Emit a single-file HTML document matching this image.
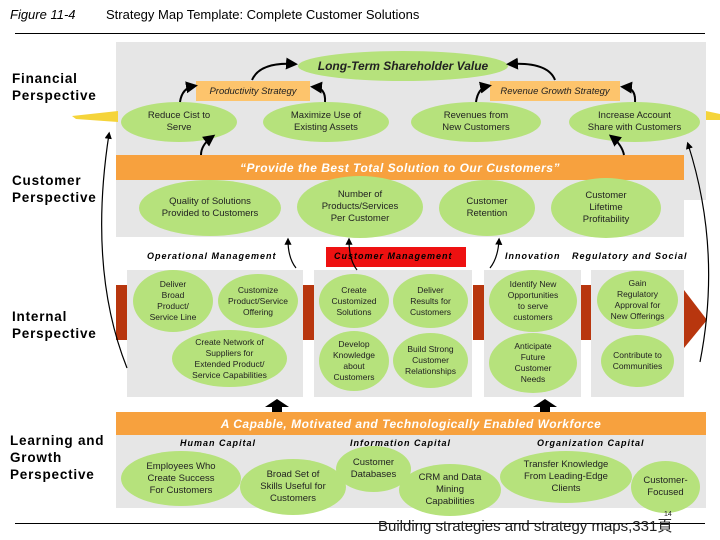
<!DOCTYPE html>
<html><head><meta charset="utf-8"><style>
body{margin:0;width:720px;height:540px;background:#fff;position:relative;overflow:hidden;font-family:"Liberation Sans",sans-serif;}
.a{position:absolute;}
.g{position:absolute;background:#e6e6e6;}
.e{position:absolute;background:#b6e27c;border-radius:50%;display:flex;align-items:center;justify-content:center;text-align:center;font-size:9.5px;line-height:12px;color:#222;}
.s{font-size:8.5px;line-height:11px;}
.lab{position:absolute;font-weight:bold;font-size:13.5px;line-height:17px;letter-spacing:0.8px;color:#000;}
.cap{position:absolute;font-weight:bold;font-style:italic;font-size:9px;letter-spacing:1px;color:#000;}
.bar{position:absolute;background:#f7a13e;color:#fff;font-weight:bold;font-style:italic;font-size:12px;display:flex;align-items:center;justify-content:center;letter-spacing:0.5px;}
.os{position:absolute;background:#fdc46c;font-style:italic;font-size:9.5px;display:flex;align-items:center;justify-content:center;color:#222;}
.rb{position:absolute;background:#b8360e;}
</style></head><body>
<div class="a" style="left:10px;top:7px;font-size:13px;font-style:italic;">Figure 11-4</div>
<div class="a" style="left:106px;top:7px;font-size:13px;">Strategy Map Template: Complete Customer Solutions</div>
<div class="a" style="left:15px;top:33px;width:690px;height:1px;background:#000;"></div>

<div class="g" style="left:116px;top:42px;width:590px;height:158px;"></div>
<div class="g" style="left:116px;top:180px;width:568px;height:57px;"></div>
<div class="bar" style="left:116px;top:155px;width:568px;height:25px;">“Provide the Best Total Solution to Our Customers”</div>

<div class="e" style="left:298px;top:51px;width:210px;height:30px;font-weight:bold;font-style:italic;font-size:12px;">Long-Term Shareholder Value</div>
<div class="os" style="left:196px;top:81px;width:114px;height:20px;">Productivity Strategy</div>
<div class="os" style="left:490px;top:81px;width:130px;height:20px;">Revenue Growth Strategy</div>
<div class="e" style="left:121px;top:102px;width:116px;height:40px;">Reduce Cist to<br>Serve</div>
<div class="e" style="left:263px;top:102px;width:126px;height:40px;">Maximize Use of<br>Existing Assets</div>
<div class="e" style="left:411px;top:102px;width:130px;height:40px;">Revenues from<br>New Customers</div>
<div class="e" style="left:569px;top:102px;width:131px;height:40px;">Increase Account<br>Share with Customers</div>

<div class="e" style="left:139px;top:180px;width:142px;height:56px;">Quality of Solutions<br>Provided to Customers</div>
<div class="e" style="left:297px;top:176px;width:126px;height:62px;">Number of<br>Products/Services<br>Per Customer</div>
<div class="e" style="left:439px;top:180px;width:96px;height:56px;">Customer<br>Retention</div>
<div class="e" style="left:551px;top:178px;width:110px;height:60px;">Customer<br>Lifetime<br>Profitability</div>

<div class="cap" style="left:147px;top:251px;">Operational Management</div>
<div class="a" style="left:326px;top:247px;width:140px;height:20px;background:#ee1111;"></div>
<div class="cap" style="left:334px;top:251px;">Customer Management</div>
<div class="cap" style="left:505px;top:251px;">Innovation</div>
<div class="cap" style="left:572px;top:251px;">Regulatory and Social</div>

<div class="g" style="left:127px;top:270px;width:176px;height:127px;"></div>
<div class="g" style="left:314px;top:270px;width:158px;height:127px;"></div>
<div class="g" style="left:484px;top:270px;width:97px;height:127px;"></div>
<div class="g" style="left:591px;top:270px;width:93px;height:127px;"></div>
<div class="rb" style="left:116px;top:285px;width:11px;height:55px;"></div>
<div class="rb" style="left:303px;top:285px;width:11px;height:55px;"></div>
<div class="rb" style="left:473px;top:285px;width:11px;height:55px;"></div>
<div class="rb" style="left:581px;top:285px;width:10px;height:55px;"></div>
<svg class="a" style="left:684px;top:290px;" width="24" height="60"><polygon points="0,0 23,30 0,58" fill="#b8360e"/></svg>

<div class="e s" style="left:133px;top:270px;width:80px;height:62px;">Deliver<br>Broad<br>Product/<br>Service Line</div>
<div class="e s" style="left:218px;top:274px;width:80px;height:54px;">Customize<br>Product/Service<br>Offering</div>
<div class="e s" style="left:172px;top:330px;width:115px;height:57px;">Create Network of<br>Suppliers for<br>Extended Product/<br>Service Capabilities</div>
<div class="e s" style="left:319px;top:274px;width:70px;height:54px;">Create<br>Customized<br>Solutions</div>
<div class="e s" style="left:393px;top:274px;width:75px;height:54px;">Deliver<br>Results for<br>Customers</div>
<div class="e s" style="left:319px;top:331px;width:70px;height:60px;">Develop<br>Knowledge<br>about<br>Customers</div>
<div class="e s" style="left:393px;top:333px;width:75px;height:55px;">Build Strong<br>Customer<br>Relationships</div>
<div class="e s" style="left:489px;top:270px;width:88px;height:62px;">Identify New<br>Opportunities<br>to serve<br>customers</div>
<div class="e s" style="left:489px;top:333px;width:88px;height:60px;">Anticipate<br>Future<br>Customer<br>Needs</div>
<div class="e s" style="left:597px;top:271px;width:81px;height:58px;">Gain<br>Regulatory<br>Approval for<br>New Offerings</div>
<div class="e s" style="left:601px;top:335px;width:73px;height:52px;">Contribute to<br>Communities</div>

<svg class="a" style="left:260px;top:397px;" width="300" height="17">
<polygon points="17,2 5,10 12,10 12,16 22,16 22,10 29,10" fill="#000"/>
<polygon points="285,2 273,10 280,10 280,16 290,16 290,10 297,10" fill="#000"/>
</svg>

<div class="g" style="left:116px;top:435px;width:590px;height:73px;"></div>
<div class="bar" style="left:116px;top:412px;width:590px;height:23px;">A Capable, Motivated and Technologically Enabled Workforce</div>
<div class="cap" style="left:180px;top:438px;">Human Capital</div>
<div class="cap" style="left:350px;top:438px;">Information Capital</div>
<div class="cap" style="left:537px;top:438px;">Organization Capital</div>
<div class="e" style="left:121px;top:451px;width:120px;height:55px;">Employees Who<br>Create Success<br>For Customers</div>
<div class="e" style="left:240px;top:459px;width:106px;height:56px;">Broad Set of<br>Skills Useful for<br>Customers</div>
<div class="e" style="left:336px;top:446px;width:75px;height:46px;">Customer<br>Databases</div>
<div class="e" style="left:399px;top:464px;width:102px;height:52px;">CRM and Data<br>Mining<br>Capabilities</div>
<div class="e" style="left:500px;top:451px;width:132px;height:52px;">Transfer Knowledge<br>From Leading-Edge<br>Clients</div>
<div class="e" style="left:631px;top:461px;width:69px;height:52px;">Customer-<br>Focused</div>

<div class="lab" style="left:12px;top:70px;">Financial<br>Perspective</div>
<div class="lab" style="left:12px;top:172px;">Customer<br>Perspective</div>
<div class="lab" style="left:12px;top:308px;">Internal<br>Perspective</div>
<div class="lab" style="left:10px;top:432px;">Learning and<br>Growth<br>Perspective</div>

<svg class="a" style="left:0;top:0;" width="720" height="540">
<defs><marker id="m" markerWidth="6" markerHeight="6" refX="4" refY="3" orient="auto"><path d="M0,0 L6,3 L0,6 z" fill="#000"/></marker></defs>
<polygon points="72,116 118,111 118,122 76,119" fill="#f5d43a"/>
<polygon points="706,111 720,114 720,120 706,120" fill="#f5d43a"/>
<g fill="none" stroke="#000" stroke-width="2" marker-end="url(#m)">
<path d="M252,80 Q260,62 294,64"/>
<path d="M555,80 Q548,62 510,64"/>
<path d="M180,102 Q182,88 194,86"/>
<path d="M325,102 Q326,88 314,87"/>
<path d="M476,102 Q478,88 488,86"/>
<path d="M635,102 Q636,88 624,87"/>
<path d="M201,155 Q201,145 212,137"/>
<path d="M624,155 Q622,145 612,137"/>
</g>
<g fill="none" stroke="#000" stroke-width="1.2" marker-end="url(#m)">
<path d="M127,368 Q88,270 109,134"/>
<path d="M700,362 Q722,250 688,144"/>
<path d="M296,268 Q288,258 288,240"/>
<path d="M357,270 Q349,260 349,240"/>
<path d="M490,268 Q498,258 499,240"/>
</g>
</svg>
<div class="a" style="left:15px;top:523px;width:690px;height:1px;background:#000;"></div>
<div class="a" style="left:378px;top:515px;font-size:15px;color:#222;">Building strategies and strategy maps,331頁</div>
<div class="a" style="left:664px;top:511px;font-size:7px;color:#222;">14</div>
</body></html>
